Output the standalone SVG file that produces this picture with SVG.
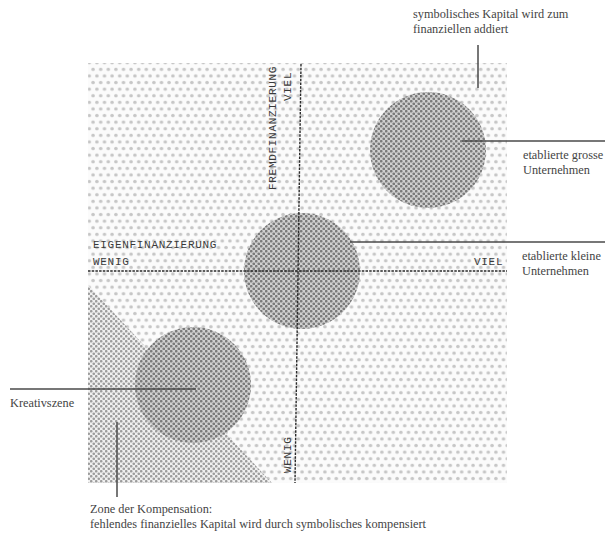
<svg xmlns="http://www.w3.org/2000/svg" width="605" height="538" viewBox="0 0 605 538">
<style>
.lbl{font-family:"Liberation Serif",serif;font-size:12.3px;fill:#444}
.ax{font-family:"Liberation Mono","DejaVu Sans Mono",monospace;font-size:11px;letter-spacing:0.7px;fill:#3a3a3a}
.axis{stroke:#2a2a2a;stroke-width:1.4;stroke-dasharray:2.5 1.2;fill:none}
.con{stroke:#4a4a4a;stroke-width:1.5;fill:none}
</style>
<defs>
<pattern id="pLight" patternUnits="userSpaceOnUse" width="7.6" height="13.2">
<rect width="7.6" height="13.2" fill="#fbfbfb"/>
<circle cx="1.9" cy="3.3" r="1.75" fill="#c6c6c6"/>
<circle cx="5.7" cy="9.9" r="1.75" fill="#c6c6c6"/>
</pattern>
<pattern id="pMid" patternUnits="userSpaceOnUse" width="5" height="5">
<rect width="5" height="5" fill="#f0f0f0"/>
<circle cx="1.25" cy="1.25" r="1.3" fill="#9c9c9c"/>
<circle cx="3.75" cy="3.75" r="1.3" fill="#9c9c9c"/>
</pattern>
<pattern id="pDark" patternUnits="userSpaceOnUse" width="5" height="5">
<rect width="5" height="5" fill="#d0d0d0"/>
<circle cx="1.25" cy="1.25" r="1.35" fill="#7a7a7a"/>
<circle cx="3.75" cy="3.75" r="1.35" fill="#7a7a7a"/>
</pattern>
</defs>
<rect width="605" height="538" fill="#fff"/>
<g id="field">
<rect x="88" y="63" width="419" height="420" fill="url(#pLight)"/>
<polygon id="zone" points="88,285 88,483 272,483" fill="url(#pMid)"/>
</g>
<g id="circle-large"><circle cx="428" cy="150" r="58" fill="url(#pDark)"/></g>
<g id="circle-small"><circle cx="302" cy="271" r="58" fill="url(#pDark)"/></g>
<g id="circle-kreativ"><circle cx="193" cy="385" r="58" fill="url(#pDark)"/></g>
<g id="axes">
<line class="axis" x1="88" y1="271" x2="507" y2="271"/>
<line class="axis" x1="301" y1="64" x2="295" y2="483"/>
<text class="ax" x="93" y="248">EIGENFINANZIERUNG</text>
<text class="ax" x="93" y="265">WENIG</text>
<text class="ax" x="474" y="265">VIEL</text>
<text class="ax" transform="translate(276,190) rotate(-90)">FREMDFINANZIERUNG</text>
<text class="ax" transform="translate(291,101) rotate(-90)">VIEL</text>
<text class="ax" transform="translate(291,473) rotate(-90)">WENIG</text>
</g>
<g id="connectors">
<line class="con" x1="478" y1="45" x2="478" y2="88"/>
<line class="con" x1="462" y1="141" x2="605" y2="141"/>
<line class="con" x1="350" y1="242" x2="605" y2="242"/>
<line class="con" x1="10" y1="389" x2="196" y2="389"/>
<line class="con" x1="117" y1="422" x2="117" y2="497"/>
</g>
<g id="labels">
<text class="lbl" x="413" y="18">symbolisches Kapital wird zum</text>
<text class="lbl" x="413" y="33">finanziellen addiert</text>
<text class="lbl" x="523" y="159">etablierte grosse</text>
<text class="lbl" x="523" y="174">Unternehmen</text>
<text class="lbl" x="522" y="260">etablierte kleine</text>
<text class="lbl" x="522" y="275">Unternehmen</text>
<text class="lbl" x="10" y="407">Kreativszene</text>
<text class="lbl" x="90" y="513">Zone der Kompensation:</text>
<text class="lbl" x="90" y="528">fehlendes finanzielles Kapital wird durch symbolisches kompensiert</text>
</g>
</svg>
